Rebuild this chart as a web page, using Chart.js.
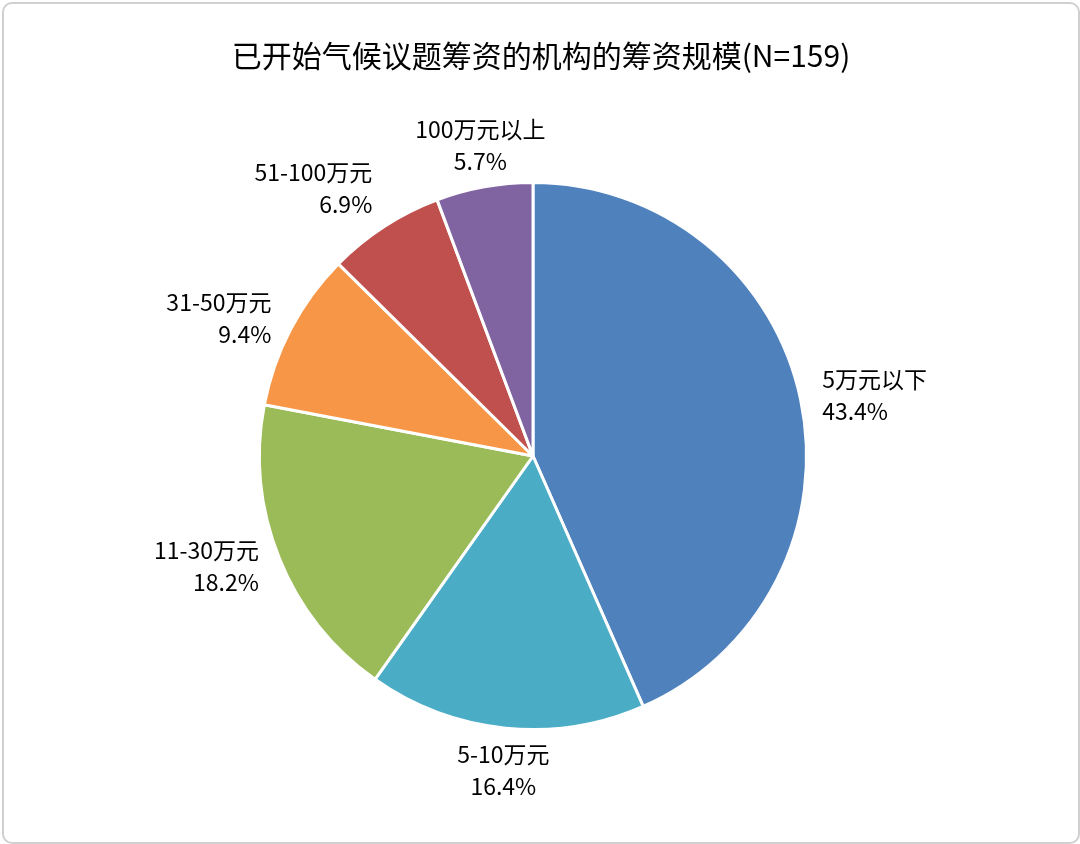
<!DOCTYPE html>
<html>
<head>
<meta charset="utf-8">
<script src="https://cdn.jsdelivr.net/npm/chart.js@4/dist/chart.umd.min.js"></script>
<style>
  html, body { margin: 0; padding: 0; background: #fff; }
  #wrap { position: absolute; left: 2px; top: 2px; width: 1074px; height: 838px;
          border: 2px solid #d0d0d0; border-radius: 10px; overflow: hidden; }
  canvas { display: block; }
</style>
</head>
<body>
<div id="wrap"><canvas id="pie" width="1074" height="838"></canvas></div>
<script>
const title = '已开始气候议题筹资的机构的筹资规模(N=159)';
const categories = ['5万元以下', '5-10万元', '11-30万元', '31-50万元', '51-100万元', '100万元以上'];
const shares = [43.4, 16.4, 18.2, 9.4, 6.9, 5.7];
const colors = ['#4F81BD', '#4BACC6', '#9BBB59', '#F79646', '#C0504D', '#8064A2'];

const font = '"Noto Sans CJK SC", "Noto Sans", sans-serif';

// Title and outside labels
const labelPlugin = {
    id: 'outsideLabels',
    afterDraw(chart) {
        const ctx = chart.ctx;
        ctx.save();
        ctx.fillStyle = '#000';
        ctx.font = '30px ' + font;
        ctx.textAlign = 'center';
        ctx.textBaseline = 'middle';
        ctx.fillText(title, chart.width / 2, 52);

        ctx.font = '23px ' + font;
        chart.getDatasetMeta(0).data.forEach((arc, i) => {
            const p = arc.getProps(['x', 'y', 'startAngle', 'endAngle', 'outerRadius'], true);
            const a = (p.startAngle + p.endAngle) / 2;
            const r = p.outerRadius + 22;
            const x = p.x + Math.cos(a) * r;
            const y = p.y + Math.sin(a) * r;
            const c = Math.cos(a);
            ctx.textAlign = c > 0.3 ? 'left' : (c < -0.3 ? 'right' : 'center');
            const s = Math.sin(a);
            const dy = s > 0.5 ? 20 : (s < -0.5 ? -20 : 0);
            ctx.fillText(categories[i], x, y + dy - 16);
            ctx.fillText(shares[i].toFixed(1) + '%', x, y + dy + 16);
        });
        ctx.restore();
    }
};

new Chart(document.getElementById('pie'), {
    type: 'pie',
    data: {
        labels: categories,
        datasets: [{
            data: shares,
            backgroundColor: colors,
            borderColor: '#fff',
            borderWidth: 3
        }]
    },
    options: {
        responsive: false,
        animation: false,
        layout: { padding: { top: 176, bottom: 110, left: 254, right: 270 } },
        plugins: {
            legend: { display: false },
            tooltip: { enabled: false }
        }
    },
    plugins: [labelPlugin]
});
</script>
</body>
</html>
